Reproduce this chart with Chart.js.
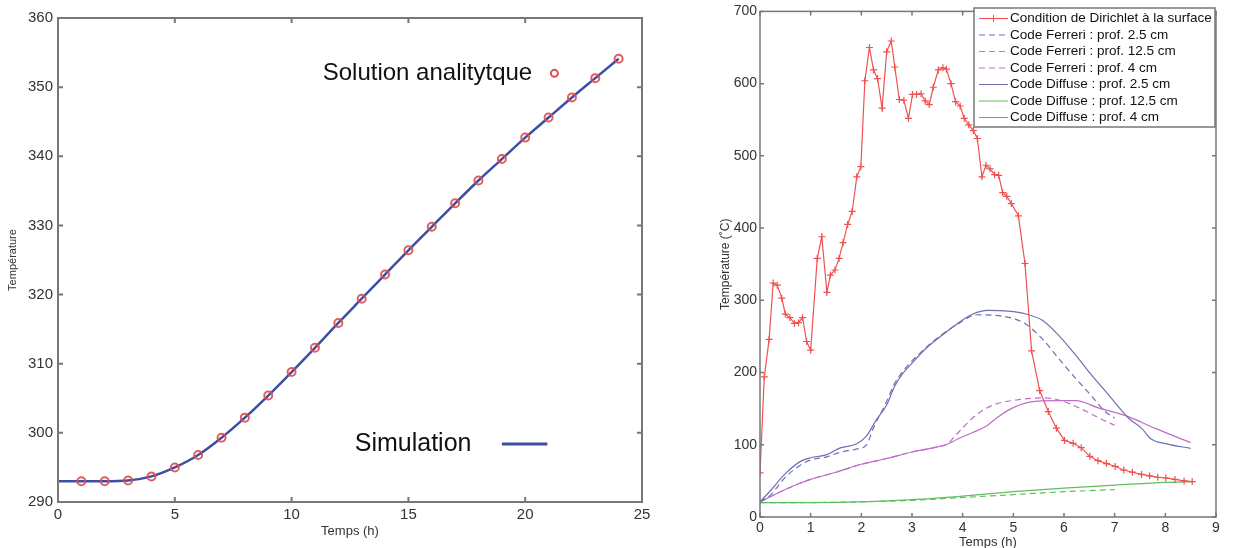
<!DOCTYPE html>
<html lang="fr">
<head>
    <meta charset="UTF-8">
    <title>Température</title>
    <script src="https://cdn.jsdelivr.net/npm/chart.js"></script>
    <style>
        body {
            margin: 0;
            width: 1234px;
            height: 548px;
            background: white;
            position: relative;
            overflow: hidden;
        }
        #leftBox { position: absolute; left: 0; top: 0; width: 660px; height: 548px; }
        #rightBox { position: absolute; left: 700px; top: 0; width: 534px; height: 548px; }
    </style>
</head>
<body>
    <div id="leftBox"><canvas id="leftChart"></canvas></div>
    <div id="rightBox"><canvas id="rightChart"></canvas></div>

    <script>
        // --- panneau gauche : simulation vs solution analytique
        const simTime = [0, 1, 2, 3, 4, 5, 6, 7, 8, 9, 10, 11, 12, 13, 14, 15, 16, 17, 18, 19, 20, 21, 22, 23, 24];
        const simTemp = [293, 293, 293, 293.1, 293.7, 295, 296.8, 299.3, 302.2, 305.4, 308.8, 312.3, 315.9, 319.4, 322.9, 326.4, 329.8, 333.2, 336.5, 339.6, 342.7, 345.6, 348.5, 351.3, 354.1];
        const solTime = [1, 2, 3, 4, 5, 6, 7, 8, 9, 10, 11, 12, 13, 14, 15, 16, 17, 18, 19, 20, 21, 22, 23, 24];
        const solTemp = [293, 293, 293.1, 293.7, 295, 296.8, 299.3, 302.2, 305.4, 308.8, 312.3, 315.9, 319.4, 322.9, 326.4, 329.8, 333.2, 336.5, 339.6, 342.7, 345.6, 348.5, 351.3, 354.1];
        const leftXTicks = [0, 5, 10, 15, 20, 25];
        const leftYTicks = [290, 300, 310, 320, 330, 340, 350, 360];

        // --- panneau droit : Dirichlet, Ferreri, Diffuse
        const dirTime = [0, 0.085, 0.18, 0.26, 0.34, 0.43, 0.5, 0.59, 0.68, 0.76, 0.84, 0.92, 1.0, 1.13, 1.22, 1.32, 1.39, 1.48, 1.56, 1.64, 1.73, 1.82, 1.91, 1.99, 2.07, 2.16, 2.24, 2.32, 2.41, 2.5, 2.59, 2.66, 2.75, 2.84, 2.93, 3.01, 3.09, 3.18, 3.26, 3.34, 3.42, 3.52, 3.61, 3.68, 3.77, 3.86, 3.95, 4.03, 4.12, 4.21, 4.29, 4.38, 4.46, 4.54, 4.63, 4.71, 4.79, 4.87, 4.96, 5.1, 5.23, 5.36, 5.52, 5.69, 5.85, 6.01, 6.18, 6.34, 6.51, 6.67, 6.84, 7.01, 7.18, 7.35, 7.53, 7.69, 7.85, 8.01, 8.19, 8.37, 8.53];
        const dirTemp = [61, 194, 246, 324, 321, 303, 281, 276, 268, 269, 276, 243, 231, 358, 388, 311, 335, 342, 358, 380, 405, 423, 471, 485, 604, 650, 619, 607, 566, 644, 659, 623, 578, 577, 552, 585, 585, 586, 576, 571, 595, 619, 622, 620, 600, 575, 569, 552, 543, 535, 524, 471, 487, 482, 474, 473, 449, 444, 434, 417, 351, 230, 175, 146, 123, 106, 102, 96, 84, 78, 74, 70, 65, 62, 59, 57, 55, 54, 52, 50, 49];

        const fer25Time = [0, 0.2, 0.5, 0.8, 1.0, 1.3, 1.6, 1.9, 2.1, 2.25, 2.5, 2.65, 2.8, 3.0, 3.3, 3.6, 3.9, 4.28, 4.93, 5.25, 5.58, 5.9, 6.23, 6.55, 6.81, 7.0];
        const fer25Temp = [21, 30, 55, 72, 79, 83, 90, 94, 100, 125, 160, 184, 200, 216, 236, 253, 267, 280, 276, 267, 246, 219, 192, 167, 146, 137];
        const fer125Time = [0, 1, 2, 3, 4, 5, 6, 7];
        const fer125Temp = [20, 20, 21, 23, 27, 31, 35, 38];
        const fer4Time = [0, 0.2, 0.5, 0.8, 1.0, 1.5, 2.0, 2.5, 3.0, 3.5, 3.7, 3.82, 4.28, 4.6, 5.06, 5.58, 5.9, 6.36, 6.75, 7.0];
        const fer4Temp = [21, 28, 38, 47, 52, 62, 73, 81, 90, 97, 101, 110, 142, 155, 162, 165, 162, 149, 135, 127];

        const dif25Time = [0, 0.2, 0.5, 0.8, 1.0, 1.3, 1.6, 1.9, 2.1, 2.3, 2.5, 2.65, 2.8, 3.0, 3.3, 3.6, 3.9, 4.2, 4.5, 4.9, 5.25, 5.58, 5.9, 6.23, 6.55, 6.88, 7.27, 7.53, 7.72, 8.05, 8.5];
        const dif25Temp = [21, 36, 60, 77, 82, 86, 96, 101, 112, 135, 155, 180, 197, 213, 235, 252, 268, 281, 286, 285, 281, 272, 251, 224, 196, 169, 137, 123, 108, 101, 95];
        const dif125Time = [0, 1, 2, 3, 4, 5, 6, 7, 8, 8.5];
        const dif125Temp = [20, 20, 21, 24, 29, 35, 40, 44, 48, 49];
        const dif4Time = [0, 0.2, 0.5, 0.8, 1.0, 1.5, 2.0, 2.5, 3.0, 3.5, 3.7, 3.9, 4.2, 4.47, 4.67, 4.93, 5.32, 5.9, 6.23, 6.68, 7.27, 7.79, 8.5];
        const dif4Temp = [21, 28, 38, 47, 52, 62, 73, 81, 90, 97, 101, 108, 117, 126, 137, 149, 159, 161, 161, 151, 139, 123, 103];

        const rightXTicks = [0, 1, 2, 3, 4, 5, 6, 7, 8, 9];
        const rightYTicks = [0, 100, 200, 300, 400, 500, 600, 700];
        const rightLabels = [
            'Condition de Dirichlet à la surface',
            'Code Ferreri : prof. 2.5 cm',
            'Code Ferreri : prof. 12.5 cm',
            'Code Ferreri : prof. 4 cm',
            'Code Diffuse : prof. 2.5 cm',
            'Code Diffuse : prof. 12.5 cm',
            'Code Diffuse : prof. 4 cm'
        ];

        const FONT = '"Liberation Sans", Arial, sans-serif';
        const RED = 'rgb(240, 80, 80)';
        const BLUE = 'rgb(110, 112, 178)';
        const GREEN = 'rgb(95, 190, 95)';
        const PURPLE = 'rgb(190, 110, 200)';

        function pts(xs, ys) {
            return xs.map((x, i) => ({ x: x, y: ys[i] }));
        }

        // cadre + graduations vers l'intérieur (style matlab)
        const frameTicks = {
            id: 'frameTicks',
            afterDraw(chart, args, opts) {
                const ctx = chart.ctx;
                const a = chart.chartArea;
                const len = opts.len || 5;
                ctx.save();
                ctx.strokeStyle = opts.color || '#777';
                ctx.lineWidth = opts.width || 1.5;
                ctx.strokeRect(a.left, a.top, a.right - a.left, a.bottom - a.top);
                ctx.beginPath();
                chart.scales.x.ticks.forEach(t => {
                    const px = chart.scales.x.getPixelForValue(t.value);
                    ctx.moveTo(px, a.bottom); ctx.lineTo(px, a.bottom - len);
                    ctx.moveTo(px, a.top); ctx.lineTo(px, a.top + len);
                });
                chart.scales.y.ticks.forEach(t => {
                    const py = chart.scales.y.getPixelForValue(t.value);
                    ctx.moveTo(a.left, py); ctx.lineTo(a.left + len, py);
                    ctx.moveTo(a.right, py); ctx.lineTo(a.right - len, py);
                });
                ctx.stroke();
                ctx.restore();
            }
        };

        function fixedTicks(list) {
            return function(scale) {
                scale.ticks = list.map(v => ({ value: v }));
            };
        }

        // légende texte du graphe de gauche
        const leftLegend = {
            id: 'leftLegend',
            afterDraw(chart) {
                const ctx = chart.ctx;
                const x = chart.scales.x, y = chart.scales.y;
                ctx.save();
                ctx.fillStyle = '#111';
                ctx.textBaseline = 'middle';
                ctx.textAlign = 'right';
                ctx.font = '24px ' + FONT;
                ctx.fillText('Solution analitytque', x.getPixelForValue(20.3), y.getPixelForValue(352.0));
                ctx.font = '25px ' + FONT;
                ctx.fillText('Simulation', x.getPixelForValue(17.7), y.getPixelForValue(298.4));
                ctx.strokeStyle = '#e05050';
                ctx.lineWidth = 2;
                ctx.beginPath();
                ctx.arc(x.getPixelForValue(21.25), y.getPixelForValue(352.0), 3.5, 0, Math.PI * 2);
                ctx.stroke();
                ctx.strokeStyle = '#3d4fa5';
                ctx.lineWidth = 3;
                ctx.beginPath();
                ctx.moveTo(x.getPixelForValue(19.0), y.getPixelForValue(298.4));
                ctx.lineTo(x.getPixelForValue(20.95), y.getPixelForValue(298.4));
                ctx.stroke();
                ctx.restore();
            }
        };

        // légende encadrée du graphe de droite
        const rightLegend = {
            id: 'rightLegend',
            afterDraw(chart) {
                const ctx = chart.ctx;
                const bx = 274, by = 8, bw = 241, bh = 119;
                ctx.save();
                ctx.fillStyle = 'white';
                ctx.fillRect(bx, by, bw, bh);
                ctx.strokeStyle = '#777';
                ctx.lineWidth = 1.5;
                ctx.strokeRect(bx, by, bw, bh);
                ctx.font = '13.5px ' + FONT;
                ctx.textBaseline = 'middle';
                ctx.textAlign = 'left';
                chart.data.datasets.forEach((ds, i) => {
                    const yy = by + 10.5 + i * 16.5;
                    ctx.strokeStyle = ds.borderColor;
                    ctx.lineWidth = 1;
                    ctx.setLineDash(ds.borderDash || []);
                    ctx.beginPath();
                    ctx.moveTo(bx + 5, yy);
                    ctx.lineTo(bx + 34, yy);
                    ctx.stroke();
                    ctx.setLineDash([]);
                    if (ds.pointStyle === 'cross') {
                        ctx.beginPath();
                        ctx.moveTo(bx + 19.5, yy - 3.5); ctx.lineTo(bx + 19.5, yy + 3.5);
                        ctx.moveTo(bx + 16, yy); ctx.lineTo(bx + 23, yy);
                        ctx.stroke();
                    }
                    ctx.fillStyle = '#111';
                    ctx.fillText(ds.label, bx + 36, yy);
                });
                ctx.restore();
            }
        };

        new Chart(document.getElementById('leftChart'), {
            type: 'line',
            data: {
                datasets: [{
                    label: 'Simulation',
                    data: pts(simTime, simTemp),
                    borderColor: '#3d4fa5',
                    borderWidth: 2.5,
                    pointRadius: 0,
                    cubicInterpolationMode: 'monotone',
                    order: 2
                }, {
                    label: 'Solution analitytque',
                    data: pts(solTime, solTemp),
                    showLine: false,
                    pointStyle: 'circle',
                    pointRadius: 4,
                    pointBorderWidth: 2,
                    pointBorderColor: 'rgba(225, 75, 75, 0.9)',
                    pointBackgroundColor: 'transparent',
                    order: 1
                }]
            },
            options: {
                responsive: true,
                maintainAspectRatio: false,
                animation: false,
                layout: { padding: { top: 18, right: 18, left: 0, bottom: 0 } },
                plugins: {
                    legend: { display: false },
                    tooltip: { enabled: false },
                    frameTicks: { len: 5, color: '#777', width: 2 }
                },
                scales: {
                    x: {
                        type: 'linear', min: 0, max: 25,
                        afterBuildTicks: fixedTicks(leftXTicks),
                        afterFit: s => { s.height = 46; },
                        grid: { display: false, drawTicks: false },
                        border: { display: false },
                        ticks: { color: '#333', font: { family: FONT, size: 15 }, padding: 4, maxRotation: 0 },
                        title: { display: true, text: 'Temps (h)', color: '#333', font: { family: FONT, size: 13 }, padding: { top: 0, bottom: 9 } }
                    },
                    y: {
                        type: 'linear', min: 290, max: 360,
                        afterBuildTicks: fixedTicks(leftYTicks),
                        afterFit: s => { s.width = 58; },
                        grid: { display: false, drawTicks: false },
                        border: { display: false },
                        ticks: { color: '#333', font: { family: FONT, size: 15 }, padding: 5 },
                        title: { display: true, text: 'Température', color: '#333', font: { family: FONT, size: 11 }, padding: { top: 6, bottom: 0 } }
                    }
                }
            },
            plugins: [frameTicks, leftLegend]
        });

        const rightSets = [
            { t: dirTime, v: dirTemp, color: RED, dash: [], cross: true },
            { t: fer25Time, v: fer25Temp, color: BLUE, dash: [6, 4] },
            { t: fer125Time, v: fer125Temp, color: GREEN, dash: [6, 4] },
            { t: fer4Time, v: fer4Temp, color: PURPLE, dash: [6, 4] },
            { t: dif25Time, v: dif25Temp, color: BLUE, dash: [] },
            { t: dif125Time, v: dif125Temp, color: GREEN, dash: [] },
            { t: dif4Time, v: dif4Temp, color: PURPLE, dash: [] }
        ];

        new Chart(document.getElementById('rightChart'), {
            type: 'line',
            data: {
                datasets: rightSets.map((s, i) => ({
                    label: rightLabels[i],
                    data: pts(s.t, s.v),
                    borderColor: s.color,
                    borderWidth: 1.2,
                    borderDash: s.dash,
                    pointStyle: s.cross ? 'cross' : 'circle',
                    pointRadius: s.cross ? 3.5 : 0,
                    pointBorderWidth: 1.2,
                    pointBorderColor: s.color,
                    cubicInterpolationMode: s.cross ? 'default' : 'monotone',
                    tension: 0
                }))
            },
            options: {
                responsive: true,
                maintainAspectRatio: false,
                animation: false,
                layout: { padding: { top: 5, right: 18, left: 0, bottom: 0 } },
                plugins: {
                    legend: { display: false },
                    tooltip: { enabled: false },
                    frameTicks: { len: 4, color: '#777', width: 1.5 }
                },
                scales: {
                    x: {
                        type: 'linear', min: 0, max: 9,
                        afterBuildTicks: fixedTicks(rightXTicks),
                        afterFit: s => { s.height = 31; },
                        grid: { display: false, drawTicks: false },
                        border: { display: false },
                        ticks: { color: '#333', font: { family: FONT, size: 14 }, padding: 3, maxRotation: 0 },
                        title: { display: true, text: 'Temps (h)', color: '#333', font: { family: FONT, size: 13 }, padding: { top: 0, bottom: -2 } }
                    },
                    y: {
                        type: 'linear', min: 0, max: 700,
                        afterBuildTicks: fixedTicks(rightYTicks),
                        afterFit: s => { s.width = 60; },
                        grid: { display: false, drawTicks: false },
                        border: { display: false },
                        ticks: { color: '#333', font: { family: FONT, size: 14 }, padding: 3 },
                        title: { display: true, text: 'Température (˚C)', color: '#333', font: { family: FONT, size: 12 }, padding: { top: 18, bottom: 0 } }
                    }
                }
            },
            plugins: [frameTicks, rightLegend]
        });
    </script>
</body>
</html>
